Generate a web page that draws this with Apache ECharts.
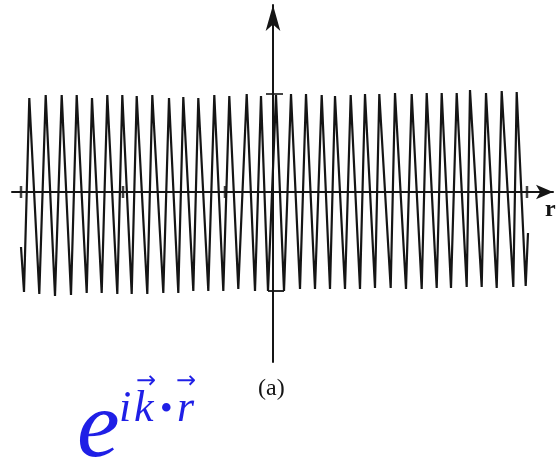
<!DOCTYPE html>
<html>
<head>
<meta charset="utf-8">
<script src="https://cdn.jsdelivr.net/npm/echarts@6/dist/echarts.min.js"></script>
<style>
  html, body { margin: 0; padding: 0; background: #ffffff; }
  #chart { width: 556px; height: 460px; }
</style>
</head>
<body>
<div id="chart"></div>
<script>
// Wave crests: position r along the axis and height
const crestR = [-243.7, -227.3, -211.3, -196.3, -181, -165.7, -150.7, -136.3, -120.7, -104, -89.7,
                -74.7, -58.7, -43.7, -26.3, -12, 3, 18, 33, 48.7, 62, 77.7,
                92, 106.3, 122, 138.7, 153.7, 168.7, 183.7, 197, 213, 228.7, 243.7];
const crestY = [0.94, 0.97, 0.97, 0.97, 0.94, 0.97, 0.97, 0.96, 0.97, 0.94, 0.95,
                0.94, 0.97, 0.96, 0.98, 0.96, 0.97, 0.98, 0.98, 0.97, 0.96, 0.97,
                0.98, 0.98, 0.99, 0.98, 0.99, 0.99, 0.99, 1.02, 0.99, 1.01, 1.00];
// Wave troughs
const troughR = [-249, -233.7, -218, -202, -186.3, -171.3, -155.7, -141.3, -125.7, -109.7, -94.7,
                 -79.7, -64.7, -49.7, -34.7, -18, -5, 11, 27, 42, 57, 72, 87,
                 102, 117.7, 133, 148.7, 163.7, 178, 193.7, 208.7, 223.7, 240.3, 252.7];
const troughY = [-1.00, -1.02, -1.04, -1.03, -1.01, -1.01, -1.02, -1.02, -1.02, -1.01, -1.01,
                 -0.99, -0.99, -0.99, -0.97, -0.99, -0.99, -0.99, -0.97, -0.97, -0.97, -0.97, -0.97,
                 -0.96, -0.96, -0.97, -0.97, -0.96, -0.96, -0.95, -0.95, -0.96, -0.95, -0.94, -0.95];
// Loose ends of the trace
const startPoint = [-252, -0.55];
const endPoint = [255, -0.41];
// Flat bottom of the trace at the origin
const originBox = [[-5, -0.99], [11, -0.99]];
// Tick marks on the r axis and the unit mark on the vertical axis
const rTicks = [-252, -150, -48, 254];
const unitMark = [1.5, 0.98];

// Interleave troughs and crests into one trace
const wave = [startPoint];
for (let i = 0; i < troughR.length; i++) {
  wave.push([troughR[i], troughY[i]]);
  if (i < crestR.length) wave.push([crestR[i], crestY[i]]);
}
wave.push(endPoint);

const ink = '#151515';
const blue = '#1f1fe6';
const serif = 'Liberation Serif';

function label(text, left, top, size, opts) {
  const o = opts || {};
  return {
    type: 'text', left: left, top: top,
    style: {
      text: text, fill: o.fill || ink,
      fontFamily: o.family || serif, fontSize: size,
      fontStyle: o.italic ? 'italic' : 'normal',
      fontWeight: o.bold ? 'bold' : 'normal'
    }
  };
}

const chart = echarts.init(document.getElementById('chart'), null, { renderer: 'canvas' });

chart.setOption({
  backgroundColor: '#ffffff',
  animation: false,
  grid: { left: 12, right: 3, top: 5, bottom: 98 },
  xAxis: {
    type: 'value', min: -261, max: 280,
    axisLine: { onZero: true, lineStyle: { color: ink, width: 2 },
                symbol: ['none', 'arrow'], symbolSize: [11, 17] },
    axisTick: { show: false }, axisLabel: { show: false }, splitLine: { show: false }
  },
  yAxis: {
    type: 'value', min: -1.70, max: 1.87,
    axisLine: { onZero: true, lineStyle: { color: ink, width: 2 },
                symbol: ['none', 'arrow'], symbolSize: [11, 26] },
    axisTick: { show: false }, axisLabel: { show: false }, splitLine: { show: false }
  },
  series: [
    {
      type: 'line', data: wave, showSymbol: false, symbol: 'none',
      lineStyle: { color: ink, width: 2.2 }, z: 3
    },
    {
      type: 'line', data: originBox, showSymbol: false, symbol: 'none',
      lineStyle: { color: ink, width: 1.8 }, z: 3
    },
    {
      type: 'scatter', data: rTicks.map(r => [r, 0]), symbol: 'rect',
      symbolSize: [2.5, 12], itemStyle: { color: ink }, z: 4
    },
    {
      type: 'scatter', data: [unitMark], symbol: 'rect',
      symbolSize: [17, 2], itemStyle: { color: ink }, z: 4
    }
  ],
  graphic: [
    label('r', 545, 198, 24, { bold: true }),
    label('(a)', 258, 377, 24),
    label('e', 77, 383, 96, { italic: true, fill: blue }),
    label('i', 119, 387, 44, { italic: true, fill: blue }),
    label('k', 134, 387, 44, { italic: true, fill: blue }),
    label('•', 160, 393, 36, { fill: blue }),
    label('r', 177, 387, 44, { italic: true, fill: blue }),
    label('→', 136, 370, 24, { fill: blue, family: 'DejaVu Sans' }),
    label('→', 176, 370, 24, { fill: blue, family: 'DejaVu Sans' })
  ]
});
</script>
</body>
</html>
